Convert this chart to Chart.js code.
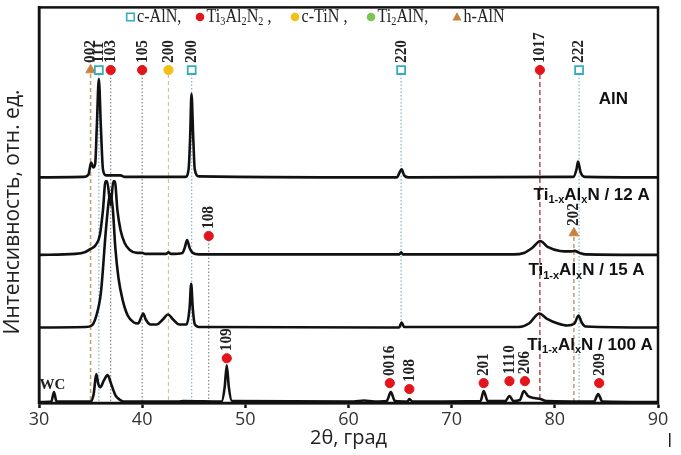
<!DOCTYPE html>
<html>
<head>
<meta charset="utf-8">
<script src="https://cdn.jsdelivr.net/npm/chart.js@4"></script>
<style>
  body { margin: 0; background: #fff; }
  #wrap { width: 681px; height: 455px; }
</style>
</head>
<body>
<div id="wrap"><canvas id="xrd" width="681" height="455"></canvas></div>
<script>
// XRD patterns, 2θ in degrees, intensity in arbitrary units above each pattern's own baseline
const alnX  = [30, 34.3, 34.8, 35.05, 35.25, 35.45, 35.6, 35.8, 36.0, 36.2, 36.5, 37.9, 38.3, 44.2, 44.5, 44.65, 44.78, 44.95, 45.1, 45.5, 64.7, 65.0, 65.15, 65.4, 65.8, 81.8, 82.1, 82.25, 82.5, 82.9, 90];
const alnY  = [0, 0.5, 3, 15, 10, 14, 50, 99, 50, 8, 2, 2, 0.5, 0.5, 8, 40, 84, 40, 8, 1, 0, 6, 8, 2, 0, 0.5, 8, 16, 5, 0.5, 0];

const a12X  = [30, 33.5, 34.5, 35.0, 35.5, 35.9, 36.2, 36.45, 36.6, 36.95, 37.2, 37.35, 37.6, 37.9, 38.3, 38.8, 39.5, 40.0, 40.3, 42.3, 42.55, 42.8, 43.9, 44.15, 44.35, 44.6, 44.9, 45.5, 64.9, 65.1, 65.3, 76, 77, 77.8, 78.6, 79.3, 80.5, 81.5, 81.9, 82.4, 83, 90];
const a12Y  = [0, 1, 3, 6, 10, 20, 45, 74, 74, 50, 74, 74, 45, 25, 12, 5, 2, 2, 1, 1, 2.5, 1, 2, 8, 15, 7, 2, 0.5, 0.5, 2.5, 0.5, 0.5, 2, 7, 14, 8, 4, 3.5, 4, 2, 0.5, 0];

const a15X  = [30, 34.5, 35.1, 35.5, 36.0, 36.5, 36.8, 36.95, 37.15, 37.4, 37.7, 38.1, 38.6, 39.2, 39.6, 39.9, 40.1, 40.35, 40.8, 41.4, 42.0, 42.5, 43.0, 43.6, 44.3, 44.6, 44.75, 44.9, 45.1, 45.5, 64.9, 65.15, 65.4, 76.5, 77.5, 78.5, 79.2, 80.3, 81.2, 81.9, 82.3, 82.6, 83, 90];
const a15Y  = [0, 0.5, 2, 10, 35, 100, 130, 134, 120, 80, 50, 28, 12, 5, 4, 10, 14, 8, 3, 3, 8, 13, 8, 3, 3, 20, 44, 20, 3, 0.5, 0, 5, 0.5, 0.5, 4, 14, 9, 4, 2, 4, 12, 5, 1, 0];

const a100X = [30, 31.2, 31.45, 31.7, 35.0, 35.3, 35.55, 35.75, 35.95, 36.3, 36.65, 37.0, 37.4, 37.8, 38.2, 43.5, 44, 47.7, 48.0, 48.2, 48.4, 48.7, 60.5, 61.5, 62.5, 63.7, 64.1, 64.5, 65.7, 65.9, 66.2, 72.8, 73.1, 73.5, 75.2, 75.6, 76.0, 76.6, 77.0, 77.4, 78.0, 78.6, 79.2, 83.8, 84.2, 84.6, 90];
const a100Y = [0, 0.5, 10, 0.5, 0.5, 8, 28, 18, 15, 22, 27, 18, 7, 2.5, 0.5, 0.5, 1, 0.5, 15, 37, 15, 1, 0.5, 1.5, 0.5, 1, 10, 1, 0.5, 3, 0.5, 1, 11, 1, 1, 6, 1, 2, 11, 6, 4, 3, 1, 0.5, 8, 0.5, 0];

// vertical stacking of the four patterns
const offsets = [227, 149, 76, 1];
const sampleNames = ['AlN', '12 A', '15 A', '100 A'];

// reflections marked along the top of the plot
const topPos   = [35.0, 35.8, 36.95, 40.0, 42.55, 44.8, 65.1, 78.55, 82.35];
const topHkl   = ['002', '111', '103', '105', '200', '200', '220', '1017', '222'];
const topPhase = ['h', 'c', 't', 't', 'n', 'c', 'c', 't', 'c'];
const topLineEnd = [0, 0, 0, 0, 0, 0, 76, 0, 0];
const topLevel = 335;

// reflections marked over single patterns
const lowPos   = [46.45, 81.85, 48.2, 64.0, 65.9, 73.1, 75.6, 77.1, 84.3];
const lowHkl   = ['108', '202', '109', '0016', '108', '201', '1110', '206', '209'];
const lowPhase = ['t', 'h', 't', 't', 't', 't', 't', 't', 't'];
const lowLevel = [168, 171, 45, 20, 14, 20, 22, 22, 20];
const lowLine  = [true, true, false, false, false, false, false, false, false];

const phaseStyle = {
  c: { marker: 'rect', radius: 5.6, fill: '#ffffff', stroke: '#35adc0', line: '#7fb2d6', dash: [1.5, 2], width: 1.2 },
  t: { marker: 'circle', radius: 4.6, fill: '#e3151c', stroke: '#e3151c', line: '#858585', dash: [1.5, 2], width: 1.2 },
  n: { marker: 'circle', radius: 4.6, fill: '#f3c014', stroke: '#f3c014', line: '#cbc2a4', dash: [4, 3], width: 1.2 },
  g: { marker: 'circle', radius: 4.6, fill: '#7cc552', stroke: '#7cc552' },
  h: { marker: 'triangle', radius: 5.5, fill: '#c8843f', stroke: '#c8843f', line: '#c49f7c', dash: [4, 3], width: 1.6 }
};
const strongRefLine = { line: '#a8403f', dash: [5, 3], width: 1.4 };

const traceX = [alnX, a12X, a15X, a100X];
const traceY = [alnY, a12Y, a15Y, a100Y];

const datasets = [];
traceX.forEach((xs, k) => {
  datasets.push({
    label: sampleNames[k],
    data: xs.map((x, i) => ({ x: x, y: traceY[k][i] + offsets[k] })),
    showLine: true,
    borderColor: '#111',
    borderWidth: 2.6,
    pointRadius: 0,
    cubicInterpolationMode: 'monotone',
    order: 1
  });
});

function refLine(pos, from, to, st) {
  datasets.push({
    data: [{ x: pos, y: from }, { x: pos, y: to }],
    showLine: true,
    borderColor: st.line,
    borderDash: st.dash,
    borderWidth: st.width,
    pointRadius: 0,
    order: 2
  });
}
topPos.forEach((p, i) => {
  const st = topHkl[i] === '1017' ? strongRefLine : phaseStyle[topPhase[i]];
  refLine(p, topLevel - 4, topLineEnd[i], st);
});
lowPos.forEach((p, i) => {
  if (lowLine[i]) refLine(p, lowLevel[i] - 4, 0, phaseStyle[lowPhase[i]]);
});

['c', 't', 'n', 'h'].forEach(ph => {
  const st = phaseStyle[ph];
  const pts = [];
  topPos.forEach((p, i) => { if (topPhase[i] === ph) pts.push({ x: p, y: topLevel }); });
  lowPos.forEach((p, i) => { if (lowPhase[i] === ph) pts.push({ x: p, y: lowLevel[i] }); });
  datasets.push({
    data: pts,
    pointStyle: st.marker,
    pointRadius: st.radius,
    pointBackgroundColor: st.fill,
    pointBorderColor: st.stroke,
    pointBorderWidth: ph === 'c' ? 1.8 : 1,
    showLine: false,
    order: 0
  });
});

// text helpers: parts are [text, isSubscript]
function richWidth(ctx, parts, size, fam, wt) {
  let w = 0;
  parts.forEach(([t, sub]) => {
    ctx.font = `${wt} ${sub ? Math.round(size * 0.65) : size}px ${fam}`;
    w += ctx.measureText(t).width;
  });
  return w;
}
function drawRich(ctx, parts, x, y, size, fam, wt, sx) {
  ctx.save();
  ctx.translate(x, y);
  ctx.scale(sx, 1);
  let cx = 0;
  ctx.textBaseline = 'middle';
  ctx.textAlign = 'left';
  parts.forEach(([t, sub]) => {
    ctx.font = `${wt} ${sub ? Math.round(size * 0.65) : size}px ${fam}`;
    ctx.fillText(t, cx, sub ? size * 0.28 : 0);
    cx += ctx.measureText(t).width;
  });
  ctx.restore();
  return cx * sx;
}

const legendItems = [
  ['c', [['c-AlN,', 0]]],
  ['t', [['Ti', 0], ['3', 1], ['Al', 0], ['2', 1], ['N', 0], ['2', 1], [' ,', 0]]],
  ['n', [['c-TiN ,', 0]]],
  ['g', [['Ti', 0], ['2', 1], ['AlN,', 0]]],
  ['h', [['h-AlN', 0]]]
];
const legendMarkX = [130.5, 200, 295, 371, 457];

function drawMarker(ctx, ph, x, y) {
  const st = phaseStyle[ph];
  ctx.save();
  ctx.fillStyle = st.fill;
  ctx.strokeStyle = st.stroke;
  ctx.lineWidth = 1.6;
  ctx.beginPath();
  if (ph === 'c') {
    ctx.rect(x - 3.8, y - 3.8, 7.6, 7.6);
    ctx.fill(); ctx.stroke();
  } else if (ph === 'h') {
    ctx.moveTo(x, y - 5); ctx.lineTo(x + 4.5, y + 3.5); ctx.lineTo(x - 4.5, y + 3.5); ctx.closePath();
    ctx.fill();
  } else {
    ctx.arc(x, y, 4.3, 0, Math.PI * 2);
    ctx.fill();
  }
  ctx.restore();
}

function rotLabel(ctx, text, x, y) {
  ctx.save();
  ctx.translate(x, y);
  ctx.rotate(-Math.PI / 2);
  ctx.scale(0.9, 1);
  ctx.font = 'bold 17px "Liberation Serif", serif';
  ctx.fillStyle = '#222';
  ctx.textAlign = 'left';
  ctx.textBaseline = 'middle';
  ctx.fillText(text, 0, 0);
  ctx.restore();
}

const annotations = {
  id: 'annotations',
  afterDatasetsDraw(chart) {
    const ctx = chart.ctx;
    const xs = chart.scales.x, ys = chart.scales.y;
    const a = chart.chartArea;

    // frame
    ctx.save();
    ctx.strokeStyle = '#111';
    ctx.lineWidth = 2.5;
    ctx.strokeRect(a.left, a.top, a.right - a.left, a.bottom - a.top);
    ctx.restore();

    // y axis title
    ctx.save();
    ctx.translate(13, 212);
    ctx.rotate(-Math.PI / 2);
    ctx.font = '21px "Open Sans", sans-serif';
    ctx.fillStyle = '#222';
    ctx.textAlign = 'center';
    ctx.textBaseline = 'middle';
    ctx.fillText('Интенсивность, отн. ед.', 0, 0);
    ctx.restore();

    // hkl labels above the markers
    topPos.forEach((p, i) => rotLabel(ctx, topHkl[i], xs.getPixelForValue(p), ys.getPixelForValue(topLevel) - 7));
    lowPos.forEach((p, i) => rotLabel(ctx, lowHkl[i], xs.getPixelForValue(p), ys.getPixelForValue(lowLevel[i]) - 7));

    // WC peak
    ctx.save();
    ctx.fillStyle = '#222';
    ctx.font = 'bold 15px "Liberation Serif", serif';
    ctx.textAlign = 'center';
    ctx.textBaseline = 'middle';
    ctx.fillText('WC', xs.getPixelForValue(31.3), ys.getPixelForValue(18));
    ctx.restore();

    // phase legend
    ctx.save();
    ctx.fillStyle = '#222';
    const ly = 17;
    legendItems.forEach(([ph, parts], i) => {
      const mx = legendMarkX[i];
      drawMarker(ctx, ph, mx, ly);
      drawRich(ctx, parts, mx + 6.5, ly, 19, '"Liberation Serif", serif', 'normal', 0.85);
    });
    ctx.restore();

    // sample names
    ctx.save();
    ctx.fillStyle = '#111';
    const fam = '"Liberation Sans", Arial, sans-serif';
    const nameY = [306, 209, 133, 58];
    const nameRight = [87.1, 89.2, 88.7, 89.5];
    sampleNames.forEach((n, k) => {
      const parts = k === 0 ? [['AlN', 0]] : [['Ti', 0], ['1-x', 1], ['Al', 0], ['x', 1], ['N / ' + n, 0]];
      const w = richWidth(ctx, parts, 17, fam, 'bold');
      const right = xs.getPixelForValue(nameRight[k]);
      drawRich(ctx, parts, right - w, ys.getPixelForValue(nameY[k]), 17, fam, 'bold', 1);
    });
    ctx.restore();

    ctx.fillStyle = '#222';
    ctx.fillRect(669, 433, 1.5, 14);
  }
};

new Chart(document.getElementById('xrd'), {
  type: 'scatter',
  data: { datasets: datasets },
  options: {
    responsive: false,
    animation: false,
    events: [],
    layout: { padding: { top: 5, right: 23, left: 0, bottom: 0 } },
    plugins: { legend: { display: false }, tooltip: { enabled: false } },
    scales: {
      x: {
        type: 'linear',
        min: 30, max: 90,
        afterFit: s => { s.height = 52; },
        ticks: { stepSize: 10, color: '#333', padding: 1, font: { family: '"Open Sans", sans-serif', size: 18 } },
        grid: { drawOnChartArea: false, drawTicks: true, tickLength: 5, color: '#111', tickWidth: 2.5 },
        border: { color: '#111', width: 2.5 },
        title: { display: true, text: '2θ, град', color: '#222', padding: { top: 0, bottom: 5 }, font: { family: '"Open Sans", sans-serif', size: 20 } }
      },
      y: {
        min: 0, max: 398,
        afterFit: s => { s.width = 39; },
        ticks: { display: false },
        grid: { display: false },
        border: { color: '#111', width: 2.5 }
      }
    }
  },
  plugins: [annotations]
});
</script>
</body>
</html>
